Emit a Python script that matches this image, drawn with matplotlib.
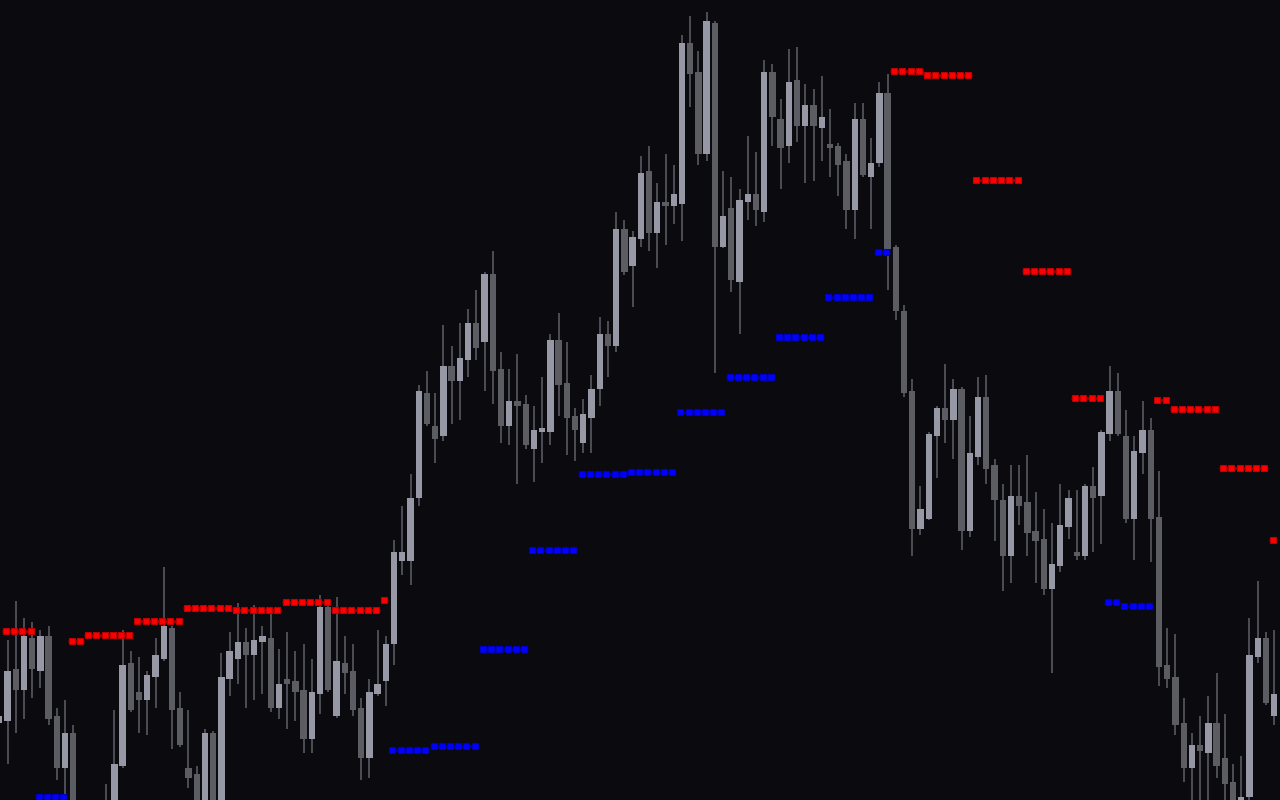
#!/usr/bin/env python3
"""
plot.py -- dark candlestick chart with fractal-style support (blue) and
resistance (red) dot levels. Prices are in chart points (no axes shown).

Output: out.png (1280x800)
"""
import numpy as np
import matplotlib
matplotlib.use("Agg")
import matplotlib.pyplot as plt

# OHLC, one entry per bar; first bar is the partly hidden one at the left edge
OPEN = [77, 79, 131, 110, 162, 129, 164, 84, 32, 67, -12, -30, -25, -28, -20, 34,
        137, 108, 100, 123, 141, 172, 92, 32, 26, -12, 67, -12, 121, 141, 158,
        145, 158, 162, 92, 121, 119, 110, 61, 106, 193, 84, 137, 129, 92, 42,
        106, 119, 156, 239, 239, 302, 407, 374, 364, 434, 419, 440, 477, 458,
        526, 431, 374, 399, 396, 351, 368, 368, 460, 417, 384, 357, 382, 411,
        466, 454, 571, 534, 561, 629, 567, 598, 594, 596, 757, 728, 646, 777,
        553, 592, 518, 598, 606, 588, 728, 681, 654, 720, 674, 695, 672, 656,
        654, 639, 590, 681, 623, 637, 707, 553, 489, 409, 271, 281, 364, 392,
        380, 411, 269, 343, 403, 335, 300, 244, 304, 298, 269, 261, 211, 234,
        273, 248, 244, 314, 304, 366, 409, 364, 281, 347, 370, 283, 135, 123,
        77, 32, 55, 47, 77, 42, 18, -12, 3, 143, 162, 84]
HIGH = [100, 160, 199, 182, 178, 170, 174, 92, 100, 75, -5, -8, -3, 16, 90, 170,
        149, 143, 129, 162, 233, 174, 108, 90, 34, 71, 69, 147, 168, 197, 172,
        195, 174, 190, 151, 168, 149, 156, 141, 205, 195, 203, 164, 156, 102,
        121, 170, 164, 260, 294, 326, 415, 429, 407, 475, 454, 477, 491, 510,
        528, 549, 448, 431, 446, 405, 394, 423, 466, 487, 458, 392, 401, 425,
        483, 479, 588, 580, 569, 644, 654, 617, 646, 635, 765, 784, 749, 788,
        779, 629, 623, 611, 664, 648, 740, 736, 701, 751, 753, 716, 711, 724,
        691, 657, 646, 697, 697, 662, 718, 726, 555, 495, 421, 314, 368, 394,
        436, 421, 413, 384, 423, 425, 341, 316, 335, 335, 345, 308, 291, 277,
        316, 310, 310, 316, 333, 370, 434, 427, 390, 364, 399, 382, 329, 172,
        166, 102, 67, 84, 104, 127, 86, 36, 44, 182, 219, 168, 170]
LOW = [60, 36, 67, 81, 102, 112, 75, 20, -5, -25, -50, -45, -40, -40, -30, 32,
       88, 67, 65, 92, 139, 51, 53, 12, -20, -25, -25, -20, 104, 116, 92, 100,
       106, 88, 81, 71, 79, 47, 47, 86, 108, 82, 106, 84, 20, 22, 104, 94, 135,
       225, 215, 294, 374, 337, 359, 376, 380, 423, 440, 409, 396, 357, 355,
       316, 351, 318, 337, 355, 384, 345, 339, 347, 347, 394, 423, 448, 525,
       493, 553, 549, 532, 555, 576, 559, 693, 635, 639, 427, 552, 508, 466,
       580, 574, 578, 654, 611, 637, 658, 617, 619, 639, 623, 604, 571, 561,
       623, 571, 633, 510, 480, 403, 244, 265, 280, 322, 357, 341, 250, 263,
       335, 316, 259, 209, 217, 275, 244, 217, 205, 127, 228, 261, 240, 240,
       248, 256, 359, 364, 277, 240, 326, 238, 114, 112, 65, 18, -5, -5, -5, 22,
       -5, -20, -20, -5, 137, 95, 75]
CLOSE = [84, 129, 110, 164, 131, 164, 81, 32, 67, -10, -35, -15, -10, -5, 36,
         135, 90, 100, 125, 145, 174, 90, 55, 22, -10, 67, -15, 123, 149, 158,
         145, 160, 164, 92, 116, 116, 108, 61, 108, 193, 110, 139, 127, 90, 42,
         108, 116, 156, 248, 248, 302, 409, 376, 361, 434, 419, 442, 477, 452,
         526, 429, 374, 399, 394, 355, 370, 372, 460, 415, 382, 370, 386, 411,
         466, 454, 571, 528, 563, 627, 567, 598, 594, 606, 757, 726, 646, 779,
         553, 584, 520, 600, 606, 590, 728, 683, 652, 718, 674, 695, 674, 683,
         652, 635, 590, 681, 625, 637, 707, 551, 489, 407, 271, 291, 366, 392,
         380, 411, 269, 347, 403, 331, 300, 244, 304, 294, 267, 259, 211, 236,
         275, 302, 244, 314, 302, 368, 409, 366, 281, 349, 370, 281, 133, 121,
         75, 32, 55, 49, 77, 34, 16, -10, 3, 145, 162, 97, 106]

# dot levels: bar ranges (inclusive, same bar numbering, first visible bar = 0)
RED_START = [0, 8, 10, 16, 22, 28, 34, 40, 46, 108, 112, 118, 124, 130, 140, 142, 148, 154]
RED_END = [3, 9, 15, 21, 27, 33, 39, 45, 46, 111, 117, 123, 129, 133, 141, 147, 153, 154]
RED_LEVEL = [169.3, 159, 165.3, 179.3, 192.3, 189.7, 198, 189.7, 200,
             729.3, 725.3, 620.3, 529.3, 402.3, 400, 391.3, 332.3, 260]

BLUE_START = [4, 47, 52, 58, 64, 70, 76, 82, 88, 94, 100, 106, 134, 136]
BLUE_END = [7, 51, 57, 63, 69, 75, 81, 87, 93, 99, 105, 107, 135, 139]
BLUE_LEVEL = [3, 50, 54, 151, 250, 325.7, 328, 388, 422.7, 463.3, 502.7, 548, 198.3, 194]

# styling
BG = "#0a0a0f"
UP_COLOR = "#9698a5"
DOWN_COLOR = "#5c5d63"
WICK_COLOR = "#4b4c53"
BODY_W = 0.77
DOT_SHIFT = -0.2


def draw_candles(ax, x, o, h, l, c):
    o, h, l, c = map(np.asarray, (o, h, l, c))
    up = c >= o
    ax.vlines(x, l, h, color=WICK_COLOR, lw=1.44, zorder=1)
    bottom = np.minimum(o, c)
    height = np.maximum(np.abs(c - o), 1.5)
    ax.bar(x[up], height[up], bottom=bottom[up], width=BODY_W,
           color=UP_COLOR, lw=0, zorder=2)
    ax.bar(x[~up], height[~up], bottom=bottom[~up], width=BODY_W,
           color=DOWN_COLOR, lw=0, zorder=2)


def draw_levels(ax, starts, ends, levels, dot_color, edge_color, line_color):
    for s, e, lvl in zip(starts, ends, levels):
        xs = np.arange(s, e + 1) + DOT_SHIFT
        ax.plot([xs[0] - 0.45, xs[-1] + 0.45], [lvl, lvl], color=line_color,
                lw=2.0, solid_capstyle="butt", zorder=3)
        ax.plot(xs, np.full(len(xs), lvl), ls="none", marker="s",
                ms=4.0, mfc=dot_color, mec=edge_color, mew=0.8, zorder=4)


def main():
    fig = plt.figure(figsize=(12.8, 8), dpi=100, facecolor=BG)
    ax = fig.add_axes([0, 0, 1, 1])
    ax.set_facecolor(BG)

    x = np.arange(len(OPEN)) - 1
    draw_candles(ax, x, OPEN, HIGH, LOW, CLOSE)
    draw_levels(ax, RED_START, RED_END, RED_LEVEL, "#ff0000", "#c00000", "#9a0000")
    draw_levels(ax, BLUE_START, BLUE_END, BLUE_LEVEL, "#0000ff", "#0000c8", "#0000a0")

    px = 8.225  # pixels per bar
    left = -7.5 / px
    ax.set_xlim(left, left + 1280 / px)
    ax.set_ylim(0, 800)
    ax.axis("off")

    fig.savefig("out.png", dpi=100, facecolor=BG)
    plt.close(fig)


if __name__ == "__main__":
    main()
